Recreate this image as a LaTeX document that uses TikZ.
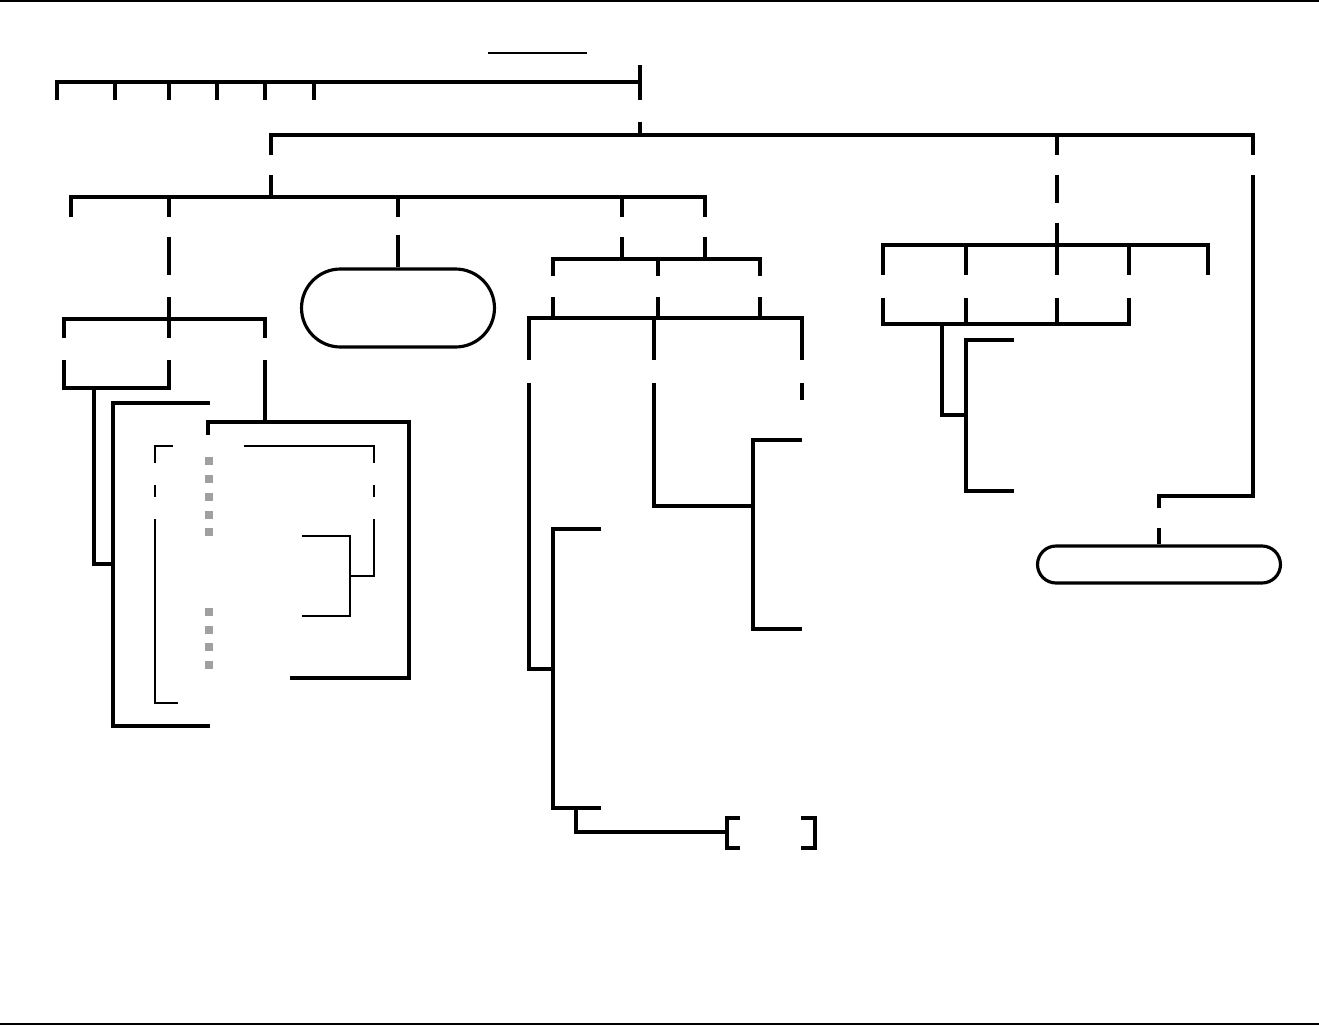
\documentclass[tikz,border=0pt]{standalone}
\usetikzlibrary{shapes.misc}

\definecolor{markgray}{HTML}{A0A0A0}

\begin{document}
\begin{tikzpicture}[
    x=0.02cm, y=-0.02cm,
    branch/.style={line width=2pt, line join=miter},
    heavy/.style={line width=2.3pt, line join=miter},
    fine/.style={line width=1.3pt, line join=miter},
    rule/.style={line width=0.9pt},
    pill/.style={rounded rectangle, draw, line width=1.8pt, inner sep=0pt}
]
\useasboundingbox (0,0) rectangle (1319,1025);

% Frame rules
\draw[rule] (0,0.8) -- (1319,0.8);
\draw[rule] (0,1024) -- (1319,1024);
\draw[fine] (488,53) -- (587,53);

% Ovals
\node[pill, minimum width=3.86cm, minimum height=1.56cm] (ovalL) at (398,308) {};
\node[pill, minimum width=4.86cm, minimum height=0.74cm] (ovalR) at (1159,564.5) {};

% Top row
\draw[branch] (57,100) -- (57,82) -- (640,82);
\foreach \x in {115,169,217,265,314}
  \draw[branch] (\x,82) -- (\x,100);
\draw[branch] (640,65) -- (640,100);

% Second row
\draw[branch] (640,122) -- (640,135);
\draw[branch] (271,155) -- (271,135) -- (1253,135) -- (1253,155);
\draw[branch] (1057,135) -- (1057,155);

% Third row
\draw[branch] (271,175) -- (271,197);
\draw[branch] (71,217) -- (71,197) -- (705,197) -- (705,217);
\foreach \x in {169,398,622}
  \draw[branch] (\x,197) -- (\x,217);
\draw[branch] (1057,175) -- (1057,203);
\draw[branch] (1253,175) -- (1253,496) -- (1159,496) -- (1159,508);
\draw[branch] (ovalR.north) -- ++(0,-16);

% Left subtree
\draw[branch] (169,237) -- (169,275);
\draw[branch] (169,297) -- (169,338);
\draw[branch] (64,338) -- (64,319) -- (265,319) -- (265,338);
\draw[branch] (64,360) -- (64,388) -- (169,388) -- (169,360);
\draw[branch] (94,388) -- (94,564) -- (113,564);
\draw[branch] (210,403) -- (113,403) -- (113,726) -- (210,726);
\draw[branch] (265,360) -- (265,422);
\draw[heavy] (208,435) -- (208,422) -- (409,422) -- (409,678) -- (290,678);

% Inner frame
\draw[fine] (173,446) -- (155,446) -- (155,463);
\draw[fine] (155,485) -- (155,497);
\draw[fine] (155,519) -- (155,703) -- (178,703);
\draw[fine] (244,446) -- (374,446) -- (374,463);
\draw[fine] (374,485) -- (374,497);
\draw[fine] (374,519) -- (374,576) -- (350,576);
\draw[fine] (302,536) -- (350,536) -- (350,616) -- (302,616);
\foreach \y in {461,479,497,515,532,612,630,647,665}
  \fill[markgray] (205,\y-4) rectangle (213,\y+4);

% Oval link
\draw[branch] (ovalL.north) -- ++(0,-32);

% Middle subtree
\draw[branch] (622,237) -- (622,259);
\draw[branch] (705,237) -- (705,259);
\draw[branch] (553,276) -- (553,259) -- (760,259) -- (760,276);
\draw[branch] (658,259) -- (658,276);
\foreach \x in {553,658,760}
  \draw[branch] (\x,297) -- (\x,318);
\draw[branch] (529,360) -- (529,318) -- (802,318) -- (802,360);
\draw[branch] (654,318) -- (654,360);
\draw[branch] (529,383) -- (529,669) -- (553,669);
\draw[branch] (601,529) -- (553,529) -- (553,808) -- (601,808);
\draw[branch] (576,808) -- (576,832) -- (727,832);
\draw[branch] (740,818) -- (727,818) -- (727,848) -- (740,848);
\draw[branch] (801,818) -- (815,818) -- (815,848) -- (801,848);
\draw[branch] (654,383) -- (654,506) -- (753,506);
\draw[branch] (802,440) -- (753,440) -- (753,629) -- (802,629);
\draw[branch] (802,383) -- (802,400);

% Right subtree
\draw[branch] (1057,223) -- (1057,275);
\draw[branch] (883,275) -- (883,245) -- (1208,245) -- (1208,275);
\foreach \x in {966,1129}
  \draw[branch] (\x,245) -- (\x,275);
\draw[branch] (883,298) -- (883,324) -- (1129,324) -- (1129,298);
\foreach \x in {966,1057}
  \draw[branch] (\x,298) -- (\x,324);
\draw[branch] (942,324) -- (942,415) -- (966,415);
\draw[branch] (1014,340) -- (966,340) -- (966,491) -- (1014,491);

\end{tikzpicture}
\end{document}
